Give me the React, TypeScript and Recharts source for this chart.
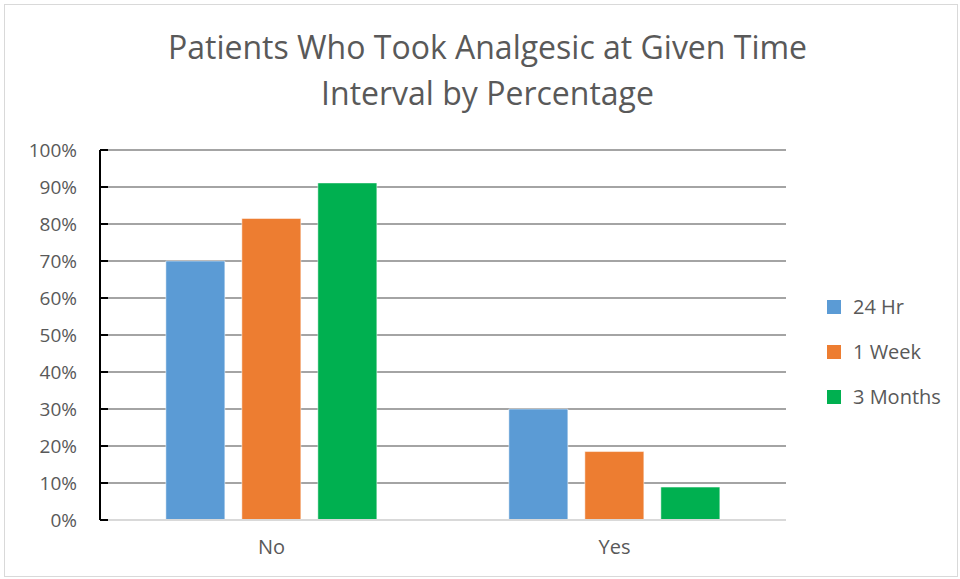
import { Bar, BarChart, CartesianGrid, XAxis, YAxis } from "recharts";

const categories = ["No", "Yes"];
const hr24 = [0.70, 0.30];
const week1 = [0.815, 0.185];
const months3 = [0.911, 0.089];
const yTicks = [0, 0.1, 0.2, 0.3, 0.4, 0.5, 0.6, 0.7, 0.8, 0.9, 1];

const series = [
  { key: "hr24", name: "24 Hr", color: "#5B9BD5" },
  { key: "week1", name: "1 Week", color: "#ED7D31" },
  { key: "months3", name: "3 Months", color: "#00B050" },
];

const data = categories.map((c, i) => ({ cat: c, hr24: hr24[i], week1: week1[i], months3: months3[i] }));

const font = "'Open Sans', sans-serif";
const grey = "#595959";

function YTick({ x, y, payload }: any) {
  return (
    <g>
      <line x1={x + 8} x2={x + 16} y1={y} y2={y} stroke="#000" strokeWidth={2} />
      <text x={x - 15} y={y} dy={7} textAnchor="end" fill={grey} fontSize={19} fontFamily={font}>
        {Math.round(payload.value * 100)}%
      </text>
    </g>
  );
}

export default function App() {
  return (
    <div style={{ position: "absolute", left: 0, top: 0, width: 960, height: 579, background: "#fff" }}>
      <div style={{ position: "absolute", left: 4, top: 4, width: 952, height: 571, border: "1px solid #d9d9d9" }} />
      <div
        style={{
          position: "absolute",
          left: 0,
          top: 24,
          width: 975,
          textAlign: "center",
          fontFamily: font,
          fontSize: 32,
          lineHeight: "46px",
          color: grey,
        }}
      >
        Patients Who Took Analgesic at Given Time
        <br />
        Interval by Percentage
      </div>
      <div style={{ position: "absolute", left: 0, top: 0 }}>
        <BarChart
          width={960}
          height={579}
          data={data}
          margin={{ top: 150, right: 174, bottom: 19, left: 0 }}
          barGap={17}
          barCategoryGap="19.2%"
        >
          <CartesianGrid vertical={false} stroke="#868686" strokeWidth={1.5} />
          <XAxis
            dataKey="cat"
            height={40}
            axisLine={{ stroke: "#d9d9d9", strokeWidth: 2 }}
            tickLine={false}
            tick={{ fill: grey, fontSize: 20, fontFamily: font }}
            tickMargin={14}
          />
          <YAxis
            width={100}
            domain={[0, 1]}
            ticks={yTicks}
            interval={0}
            axisLine={{ stroke: "#000", strokeWidth: 2 }}
            tickLine={false}
            tick={<YTick />}
          />
          {series.map((s) => (
            <Bar
              key={s.key}
              dataKey={s.key}
              name={s.name}
              fill={s.color}
              stroke="#ffffff"
              strokeOpacity={0.5}
              strokeWidth={1}
              isAnimationActive={false}
            />
          ))}
        </BarChart>
      </div>
      <div style={{ position: "absolute", left: 827, top: 284, fontFamily: font, fontSize: 20, color: grey }}>
        {series.map((s) => (
          <div key={s.key} style={{ display: "flex", alignItems: "center", height: 45 }}>
            <span style={{ width: 14, height: 14, background: s.color, marginRight: 12, display: "inline-block" }} />
            <span>{s.name}</span>
          </div>
        ))}
      </div>
    </div>
  );
}
